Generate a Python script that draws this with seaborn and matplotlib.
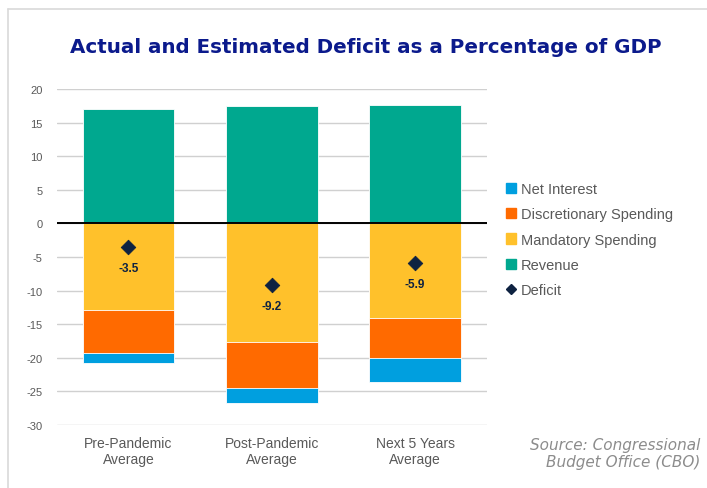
import matplotlib
matplotlib.use("Agg")
import matplotlib.pyplot as plt
import matplotlib.patches as mpatches
from matplotlib.lines import Line2D
import numpy as np
import pandas as pd
import seaborn as sns

# ── Data (percent of GDP) ───────────────────────────────────────────────────
periods = ["Pre-Pandemic\nAverage", "Post-Pandemic\nAverage", "Next 5 Years\nAverage"]
revenue = [17.0, 17.4, 17.6]
mandatory = [12.9, 17.7, 14.1]
discretionary = [6.4, 6.85, 6.0]
net_interest = [1.5, 2.15, 3.5]
deficit = [-3.5, -9.2, -5.9]

COLORS = {
    "Net Interest": "#009FDF",
    "Discretionary Spending": "#FF6A00",
    "Mandatory Spending": "#FFC12B",
    "Revenue": "#00A88F",
    "Deficit": "#0E2241",
}
GREY = "#595959"

sns.set_theme(style="white")
plt.rcParams["font.family"] = ["Liberation Sans", "DejaVu Sans"]
plt.rcParams["axes.unicode_minus"] = False

df = pd.DataFrame({
    "period": periods,
    "revenue": revenue,
    "mandatory": -np.array(mandatory),
    "discretionary": -(np.array(mandatory) + np.array(discretionary)),
    "net_interest": -(np.array(mandatory) + np.array(discretionary)
                      + np.array(net_interest)),
    "deficit": deficit,
})

fig = plt.figure(figsize=(7.07, 4.89), dpi=100)
ax = fig.add_axes([0.0802, 0.1288, 0.6082, 0.6872])

# stacked negative layers: draw deepest cumulative first, overlay the rest
for col, name in [("net_interest", "Net Interest"),
                  ("discretionary", "Discretionary Spending"),
                  ("mandatory", "Mandatory Spending"),
                  ("revenue", "Revenue")]:
    sns.barplot(data=df, x="period", y=col, color=COLORS[name], width=0.64,
                saturation=1, edgecolor="white", linewidth=0.6, ax=ax,
                zorder=2)

sns.scatterplot(data=df, x="period", y="deficit", marker="D", s=55,
                color=COLORS["Deficit"], edgecolor=COLORS["Deficit"],
                ax=ax, zorder=4, legend=False)
for i, v in enumerate(deficit):
    ax.annotate(f"{v:.1f}", (i, v), xytext=(0, -15), textcoords="offset points",
                ha="center", va="center", fontsize=8.5, fontweight="bold",
                color=COLORS["Deficit"], zorder=5)

ax.set_ylim(-30, 20)
ax.set_xlim(-0.5, 2.5)
ax.set_yticks(np.arange(-30, 21, 5))
ax.yaxis.grid(True, color="#D0D0D0", linewidth=1)
ax.set_axisbelow(True)
ax.axhline(0, color="black", linewidth=1.4, zorder=3)
for s in ax.spines.values():
    s.set_visible(False)
ax.tick_params(axis="y", length=0, labelsize=8, labelcolor=GREY, pad=10)
ax.tick_params(axis="x", length=0, labelsize=10, labelcolor=GREY, pad=8)
ax.set_xlabel("")
ax.set_ylabel("")

handles = [mpatches.Patch(color=COLORS[n], label=n) for n in
           ["Net Interest", "Discretionary Spending", "Mandatory Spending", "Revenue"]]
handles.append(Line2D([], [], marker="D", linestyle="none", markersize=5,
                      color=COLORS["Deficit"], label="Deficit"))
fig.legend(handles=handles, loc="center left", bbox_to_anchor=(0.697, 0.508),
           frameon=False, fontsize=10.5, labelcolor=GREY, handlelength=0.7,
           handleheight=0.7, handletextpad=0.35, labelspacing=0.78)

fig.text(0.518, 0.902, "Actual and Estimated Deficit as a Percentage of GDP",
         ha="center", va="center", fontsize=14.3, fontweight="bold",
         color="#0B1A8C", family="DejaVu Sans")
fig.text(0.99, 0.072, "Source: Congressional\nBudget Office (CBO)",
         ha="right", va="center", fontsize=11, style="italic",
         color="#8C8C8C", family="DejaVu Sans", linespacing=1.15)

# slide frame lines (top and left)
fig.add_artist(Line2D([0.011, 1.0], [0.979, 0.979], color="#D9D9D9",
                      linewidth=1.2, transform=fig.transFigure))
fig.add_artist(Line2D([0.011, 0.011], [0.0, 0.979], color="#D9D9D9",
                      linewidth=1.2, transform=fig.transFigure))

fig.savefig("out.png", dpi=100)
